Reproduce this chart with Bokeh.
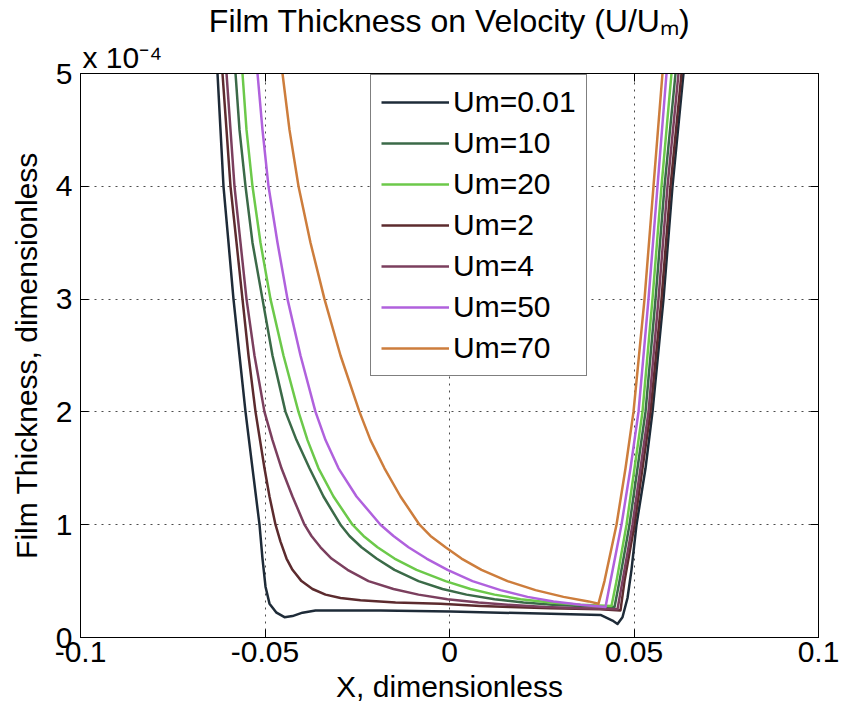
from bokeh.plotting import figure
from bokeh.models import (Range1d, FixedTicker, LinearAxis, Legend, Title,
                          LegendItem, CustomJSTickFormatter)
from bokeh.embed import file_html
from bokeh.resources import INLINE

FONT = "Liberation Sans"

# ---------------- data (film thickness in units of 1e-4) ----------------
x_ticks = [-0.1, -0.05, 0, 0.05, 0.1]
x_tick_labels = ["-0.1", "-0.05", "0", "0.05", "0.1"]
y_ticks = [0, 1, 2, 3, 4, 5]
y_tick_labels = ["0", "1", "2", "3", "4", "5"]

series_names = ["Um=0.01", "Um=10", "Um=20", "Um=2", "Um=4", "Um=50", "Um=70"]
series_colors = ["#1e2b38", "#3b6a48", "#6cc94a", "#5c2b2e", "#7b3f5e", "#b061dd", "#cd7d3c"]

x_um001 = [-0.06287, -0.06206, -0.06125, -0.05989, -0.05854, -0.05691, -0.05528, -0.05339,
           -0.05149, -0.05068, -0.04986, -0.04878, -0.04688, -0.04472, -0.04255, -0.03984,
           -0.03631, -0.01870, 0.00027, 0.02737, 0.04092, 0.04417, 0.04553, 0.04688,
           0.04824, 0.04932, 0.05068, 0.05312, 0.05501, 0.05799, 0.06043, 0.06341]
h_um001 = [5.0, 4.5, 4.0, 3.5, 3.0, 2.5, 2.0, 1.5,
           1.0, 0.70, 0.45, 0.30, 0.22, 0.18, 0.19, 0.22,
           0.24, 0.24, 0.23, 0.21, 0.20, 0.15, 0.12, 0.18,
           0.35, 0.60, 1.0, 1.5, 2.0, 3.0, 4.0, 5.0]

x_um10 = [-0.05799, -0.05691, -0.05528, -0.05339, -0.05068, -0.04797, -0.04444, -0.04146,
          -0.03794, -0.03415, -0.02954, -0.02710, -0.02385, -0.01978, -0.01491, -0.00840,
          -0.00190, 0.00461, 0.01220, 0.02005, 0.02791, 0.03550, 0.04472, 0.04607,
          0.04878, 0.05095, 0.05312, 0.05583, 0.05827, 0.06125]
h_um10 = [5.0, 4.5, 4.0, 3.5, 3.0, 2.5, 2.0, 1.75,
          1.5, 1.25, 1.0, 0.9, 0.8, 0.7, 0.6, 0.5,
          0.43, 0.38, 0.34, 0.31, 0.29, 0.28, 0.27, 0.5,
          1.0, 1.5, 2.0, 3.0, 4.0, 5.0]

x_um20 = [-0.05610, -0.05501, -0.05339, -0.05122, -0.04851, -0.04499, -0.04092, -0.03848,
          -0.03550, -0.03144, -0.02629, -0.02331, -0.01951, -0.01491, -0.00894, -0.00108,
          0.00569, 0.01220, 0.01924, 0.02737, 0.03550, 0.04390, 0.04526, 0.04797,
          0.05014, 0.05230, 0.05501, 0.05745, 0.06016]
h_um20 = [5.0, 4.5, 4.0, 3.5, 3.0, 2.5, 2.0, 1.75,
          1.5, 1.25, 1.0, 0.9, 0.8, 0.7, 0.6, 0.5,
          0.43, 0.38, 0.34, 0.31, 0.29, 0.28, 0.5, 1.0,
          1.5, 2.0, 3.0, 4.0, 5.0]

x_um2 = [-0.06152, -0.06043, -0.05935, -0.05772, -0.05610, -0.05447, -0.05257, -0.05014,
         -0.04878, -0.04715, -0.04580, -0.04417, -0.04255, -0.04011, -0.03713, -0.03360,
         -0.02954, -0.02412, -0.01463, -0.00244, 0.00840, 0.01653, 0.02737, 0.04092,
         0.04634, 0.04743, 0.05014, 0.05230, 0.05447, 0.05745, 0.05989, 0.06287]
h_um2 = [5.0, 4.5, 4.0, 3.5, 3.0, 2.5, 2.0, 1.5,
         1.25, 1.0, 0.85, 0.7, 0.6, 0.5, 0.43, 0.38,
         0.35, 0.33, 0.31, 0.30, 0.28, 0.27, 0.26, 0.25,
         0.24, 0.5, 1.0, 1.5, 2.0, 3.0, 4.0, 5.0]

x_um4 = [-0.06043, -0.05935, -0.05827, -0.05664, -0.05501, -0.05285, -0.05014, -0.04797,
         -0.04553, -0.04255, -0.03930, -0.03740, -0.03496, -0.03198, -0.02764, -0.02195,
         -0.01518, -0.00840, -0.00054, 0.00786, 0.01572, 0.02602, 0.03550, 0.04553,
         0.04688, 0.04959, 0.05176, 0.05393, 0.05664, 0.05908, 0.06206]
h_um4 = [5.0, 4.5, 4.0, 3.5, 3.0, 2.5, 2.0, 1.75,
         1.5, 1.25, 1.0, 0.9, 0.8, 0.7, 0.6, 0.5,
         0.43, 0.38, 0.34, 0.31, 0.29, 0.27, 0.26, 0.25,
         0.5, 1.0, 1.5, 2.0, 3.0, 4.0, 5.0]

x_um50 = [-0.05203, -0.05068, -0.04905, -0.04661, -0.04390, -0.04038, -0.03631, -0.03360,
          -0.03008, -0.02520, -0.01870, -0.01518, -0.01111, -0.00623, -0.00054, 0.00623,
          0.01382, 0.02114, 0.02818, 0.03550, 0.04228, 0.04363, 0.04661, 0.04905,
          0.05122, 0.05393, 0.05637, 0.05881]
h_um50 = [5.0, 4.5, 4.0, 3.5, 3.0, 2.5, 2.0, 1.75,
          1.5, 1.25, 1.0, 0.9, 0.8, 0.7, 0.6, 0.5,
          0.42, 0.36, 0.32, 0.29, 0.27, 0.5, 1.0, 1.5,
          2.0, 3.0, 4.0, 5.0]

x_um70 = [-0.04526, -0.04336, -0.04092, -0.03767, -0.03388, -0.02954, -0.02439, -0.02141,
          -0.01762, -0.01328, -0.00813, -0.00515, -0.00108, 0.00325, 0.00867, 0.01572,
          0.02331, 0.03089, 0.03767, 0.04038, 0.04200, 0.04526, 0.04770, 0.04986,
          0.05285, 0.05528, 0.05772]
h_um70 = [5.0, 4.5, 4.0, 3.5, 3.0, 2.5, 2.0, 1.75,
          1.5, 1.25, 1.0, 0.9, 0.8, 0.7, 0.6, 0.5,
          0.42, 0.36, 0.32, 0.30, 0.5, 1.0, 1.5, 2.0,
          3.0, 4.0, 5.0]

series_x = [x_um001, x_um10, x_um20, x_um2, x_um4, x_um50, x_um70]
series_h = [h_um001, h_um10, h_um20, h_um2, h_um4, h_um50, h_um70]

# ---------------- figure ----------------
p = figure(width=842, height=714, output_backend="svg", toolbar_location=None,
           x_range=Range1d(-0.1, 0.1), y_range=Range1d(0, 5),
           min_border_left=80, min_border_right=24, min_border_top=73,
           min_border_bottom=77)
p.background_fill_color = "white"
p.border_fill_color = "white"
p.outline_line_color = "black"
p.outline_line_width = 1

p.xaxis.ticker = FixedTicker(ticks=x_ticks)
p.yaxis.ticker = FixedTicker(ticks=y_ticks)
p.xaxis.major_label_overrides = dict(zip(x_ticks, x_tick_labels))
p.yaxis.major_label_overrides = dict(zip(y_ticks, y_tick_labels))

for ax in (p.xaxis[0], p.yaxis[0]):
    ax.major_tick_in = 8
    ax.major_tick_out = 0
    ax.minor_tick_line_color = None
    ax.axis_line_color = "black"
    ax.major_tick_line_color = "black"
    ax.major_label_text_font = FONT
    ax.major_label_text_font_size = "30px"
    ax.major_label_text_color = "black"
    ax.axis_label_text_font = FONT
    ax.axis_label_text_font_style = "normal"
    ax.axis_label_text_color = "black"
    ax.axis_label_text_font_size = "30px"

p.xaxis.axis_label = "X, dimensionless"
p.yaxis.axis_label = "Film Thickness, dimensionless"
p.xaxis.major_label_standoff = 4
p.xaxis.axis_label_standoff = 5
p.yaxis.major_label_standoff = 8
p.yaxis.axis_label_standoff = 10

for loc in ("above", "right"):
    ax = LinearAxis(ticker=FixedTicker(ticks=x_ticks if loc == "above" else y_ticks),
                    formatter=CustomJSTickFormatter(code="return ''"))
    ax.major_tick_in = 8
    ax.major_tick_out = 0
    ax.minor_tick_line_color = None
    ax.axis_line_color = "black"
    ax.major_label_text_font_size = "1px"
    ax.major_label_standoff = 0
    p.add_layout(ax, loc)

p.grid.grid_line_color = "black"
p.grid.grid_line_alpha = 0.7
p.grid.grid_line_dash = "2 5"
p.grid.grid_line_width = 1
p.xgrid.ticker = FixedTicker(ticks=x_ticks)
p.ygrid.ticker = FixedTicker(ticks=y_ticks)

items = []
for name, col, xs, hs in zip(series_names, series_colors, series_x, series_h):
    r = p.line(xs, hs, line_color=col, line_width=2.5, line_join="round")
    items.append(LegendItem(label=name, renderers=[r]))

legend = Legend(items=items, location=(290, 261))
legend.label_text_font = FONT
legend.label_text_font_size = "30px"
legend.label_text_color = "black"
legend.label_standoff = 4
legend.glyph_width = 68
legend.glyph_height = 34
legend.label_height = 34
legend.spacing = 7
legend.padding = 10
legend.margin = 0
legend.border_line_color = "black"
legend.border_line_width = 1
legend.background_fill_color = "white"
legend.background_fill_alpha = 1.0
p.add_layout(legend)

# ---------------- exponent and title ----------------
p.add_layout(Title(text="x 10\u207b\u2074", align="left", offset=2, standoff=0,
                   text_font=FONT, text_font_size="30px", text_font_style="normal",
                   text_color="black"), "above")
p.add_layout(Title(text="Film Thickness on Velocity (U/U\u2098)", align="center",
                   standoff=0, text_font=FONT, text_font_size="32px",
                   text_font_style="normal", text_color="black"), "above")

open("out.html", "w").write(file_html(p, INLINE))
